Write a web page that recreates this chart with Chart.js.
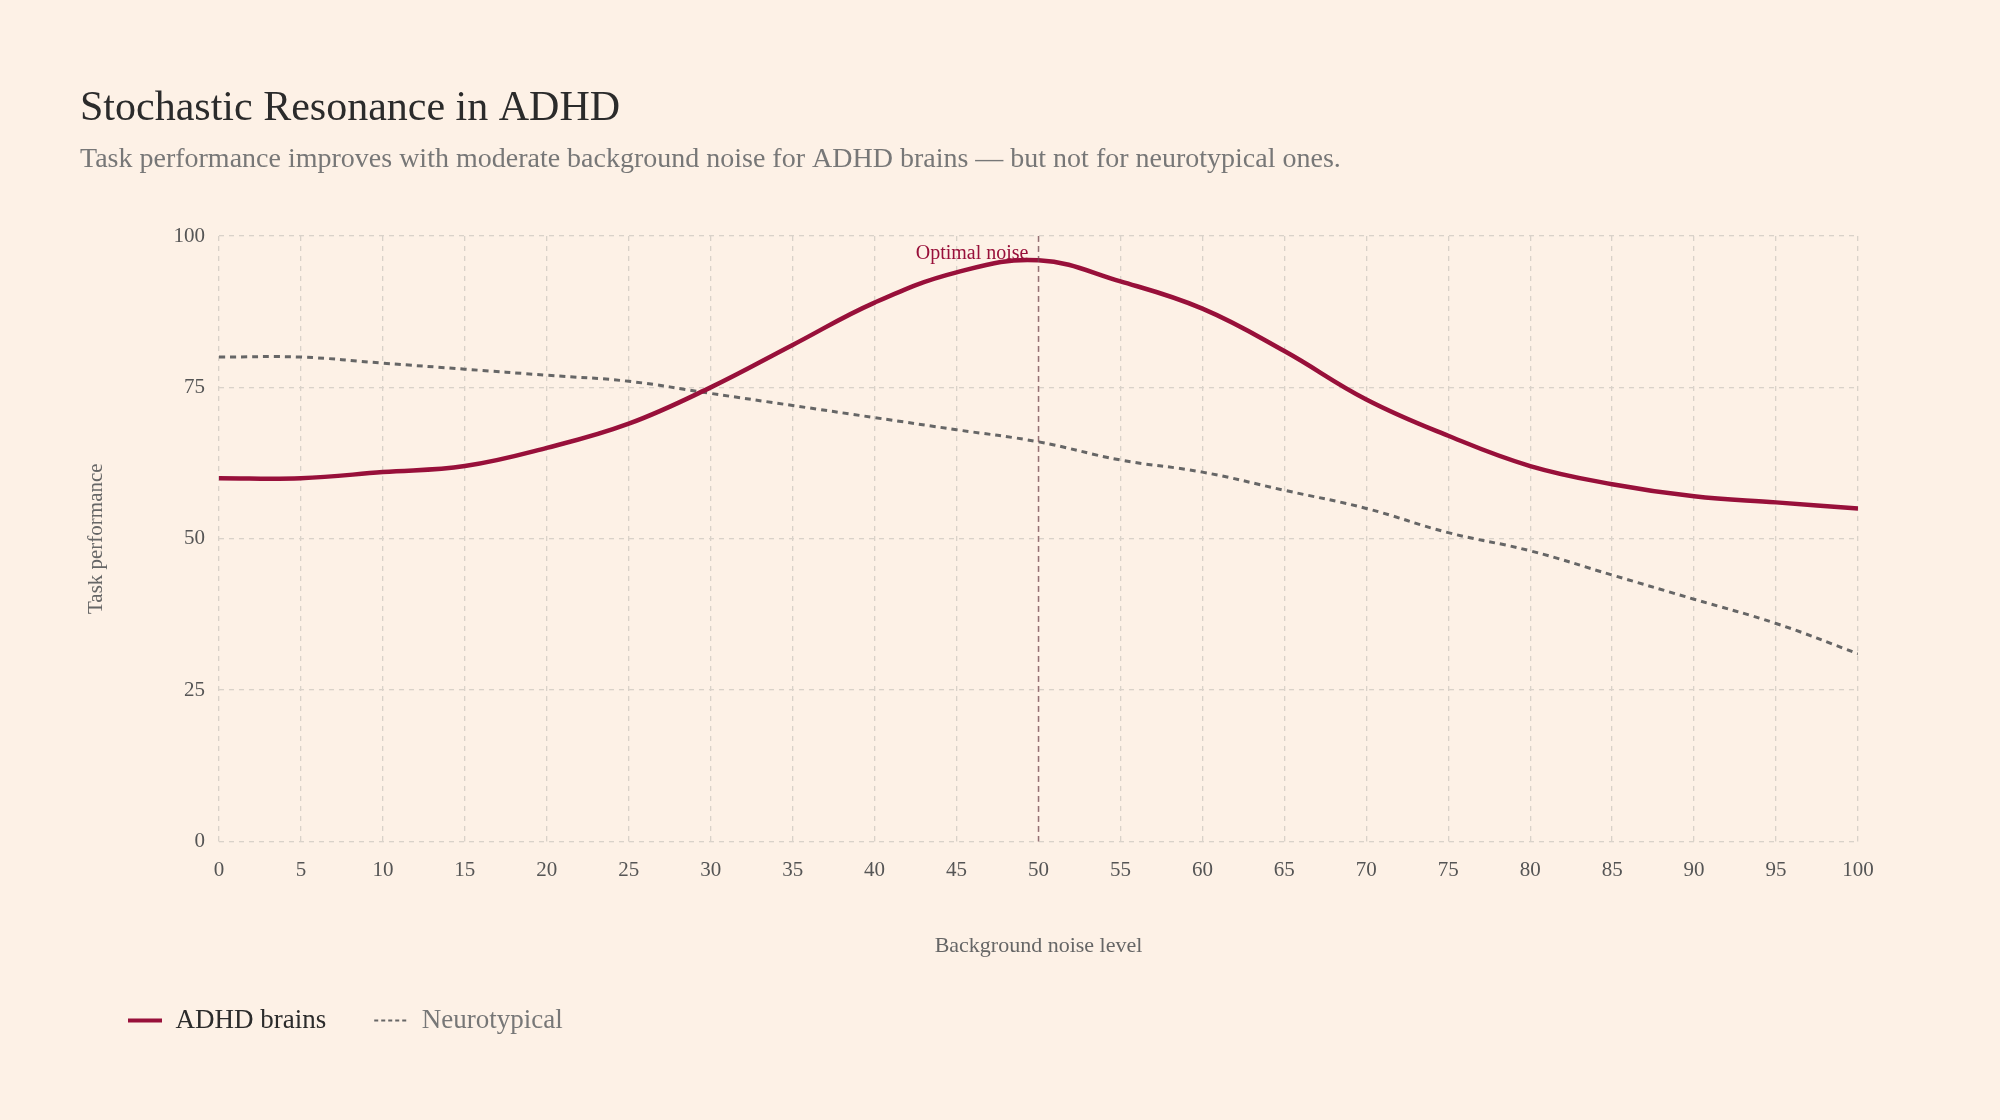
<!DOCTYPE html>
<html><head><meta charset="utf-8">
<script src="https://cdn.jsdelivr.net/npm/chart.js@4/dist/chart.umd.min.js"></script>
<style>html,body{margin:0;padding:0;background:#fdf1e6;}#w{width:2000px;height:1120px;}</style>
</head><body><div id="w"><canvas id="c" width="2000" height="1120"></canvas></div>
<script>
const noiseLevels = [0,5,10,15,20,25,30,35,40,45,50,55,60,65,70,75,80,85,90,95,100];
const adhd = [60,60,61,62,65,69,75,82,89,94,96,92.5,88,81,73,67,62,59,57,56,55];
const neurotypical = [80,80,79,78,77,76,74,72,70,68,66,63,61,58,55,51,48,44,40,36,31];
const yTicks = [0,25,50,75,100];
const optimalX = 50;
const FONT = "Georgia, 'Liberation Serif', 'DejaVu Serif', serif";
const RED = '#98103a', GRAY = '#666';

const bg = {id:'bg',beforeDraw(c){const x=c.ctx;x.save();x.fillStyle='#fdf1e6';x.fillRect(0,0,c.width,c.height);x.restore();}};
const optLine = {id:'opt',afterDatasetsDraw(c){
  const x=c.ctx, xs=c.scales.x, ys=c.scales.y; const px=xs.getPixelForValue(optimalX);
  x.save(); x.strokeStyle='rgba(120,70,80,0.7)'; x.lineWidth=1.5; x.setLineDash([6,4]);
  x.beginPath(); x.moveTo(px,ys.top); x.lineTo(px,ys.bottom); x.stroke();
  x.setLineDash([]); x.fillStyle=RED; x.font="20px "+FONT; x.textAlign='right'; x.textBaseline='bottom';
  x.fillText('Optimal noise',px-10,ys.top+28); x.restore();}};

new Chart(document.getElementById('c'),{
  type:'line',
  data:{datasets:[
    {label:'ADHD brains',data:noiseLevels.map((v,i)=>({x:v,y:adhd[i]})),borderColor:RED,backgroundColor:RED,borderWidth:4.5,tension:0.4,pointRadius:0},
    {label:'Neurotypical',data:noiseLevels.map((v,i)=>({x:v,y:neurotypical[i]})),borderColor:GRAY,backgroundColor:GRAY,borderWidth:3,borderDash:[6,5],tension:0.4,pointRadius:0}
  ]},
  options:{responsive:false,animation:false,
    layout:{padding:{left:80,right:142,top:84,bottom:76}},
    scales:{
      x:{type:'linear',min:0,max:100,ticks:{stepSize:5,color:'#555',font:{family:FONT,size:21},padding:16},
        grid:{color:'#d9d2c9',lineWidth:1.3,tickLength:0},border:{display:false,dash:[5,5]},
        title:{display:true,text:'Background noise level',color:'#666',font:{family:FONT,size:22},padding:{top:34,bottom:0}}},
      y:{min:0,max:100,afterFit:s=>{s.width=139;},afterBuildTicks:s=>{s.ticks=yTicks.map(v=>({value:v}));},ticks:{color:'#555',font:{family:FONT,size:21},padding:14},
        grid:{color:'#d9d2c9',lineWidth:1.3,tickLength:0},border:{display:false,dash:[5,5]},
        title:{display:true,text:'Task performance',color:'#666',font:{family:FONT,size:21},padding:{bottom:22}}}
    },
    plugins:{
      title:{display:true,text:'Stochastic Resonance in ADHD',align:'start',color:'#2b2b2b',font:{family:FONT,size:42,weight:'normal'},padding:{top:0,bottom:8}},
      subtitle:{display:true,text:'Task performance improves with moderate background noise for ADHD brains — but not for neurotypical ones.',align:'start',color:'#777',font:{family:FONT,size:28},padding:{bottom:60}},
      legend:{position:'bottom',align:'start',labels:{usePointStyle:true,pointStyle:'line',pointStyleWidth:34,font:{family:FONT,size:27},padding:48,
        generateLabels(c){return c.data.datasets.map((d,i)=>({text:d.label,strokeStyle:d.borderColor,fillStyle:d.borderColor,lineWidth:i?2:4,lineDash:i?[4,3]:[],pointStyle:'line',fontColor:i?'#777':'#2b2b2b',datasetIndex:i}));}}},
      tooltip:{enabled:false}
    }},
  plugins:[bg,optLine]
});
</script></body></html>
